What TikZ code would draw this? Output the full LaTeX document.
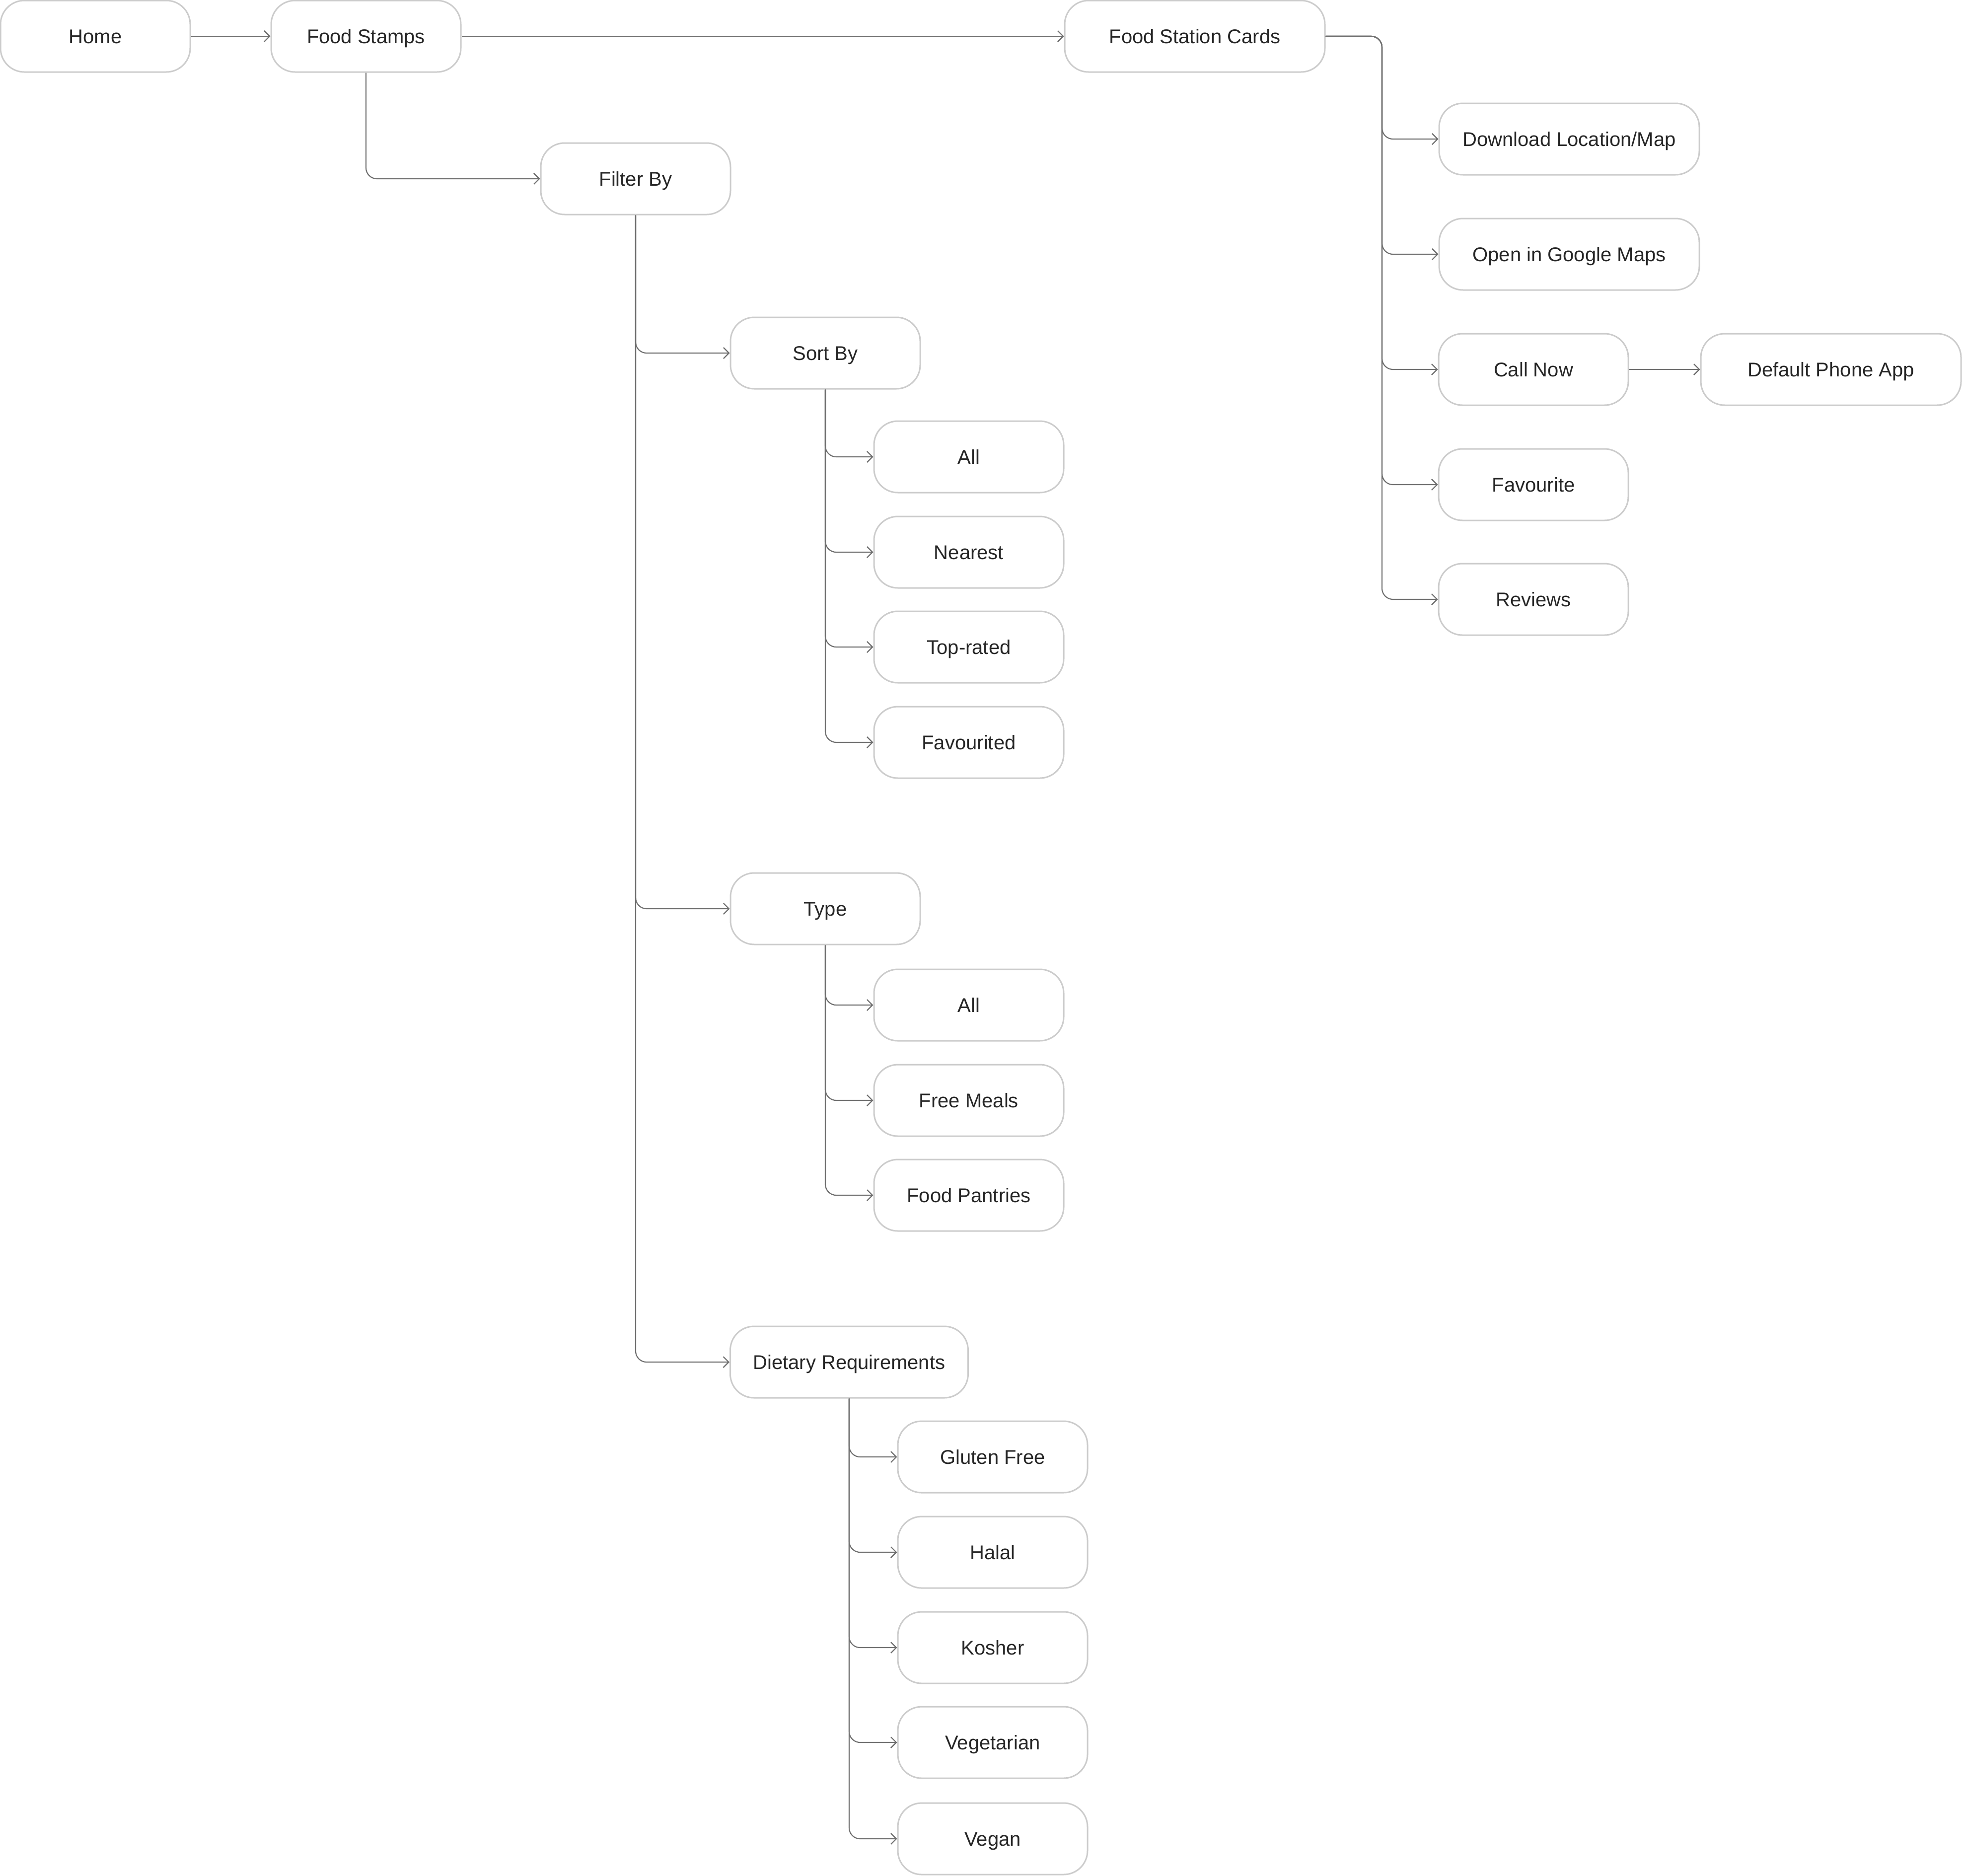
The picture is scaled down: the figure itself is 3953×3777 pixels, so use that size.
\documentclass[tikz,border=0pt]{standalone}
\usepackage{fontspec}
\setmainfont{Liberation Sans}
\usetikzlibrary{arrows.meta}
\definecolor{boxline}{HTML}{CCCCCC}
\definecolor{connline}{HTML}{707070}
\definecolor{txt}{HTML}{262626}
\begin{document}
\begin{tikzpicture}[x=1pt,y=1pt,
  box/.style={draw=boxline, line width=3pt, rounded corners=48pt, fill=white,
    minimum height=144pt, minimum width=382pt, inner sep=0pt,
    text height=28.6pt, text depth=0pt,
    text=txt, font=\fontsize{40}{48}\selectfont},
  widebox/.style={box, minimum width=524pt},
  dietbox/.style={box, minimum width=479pt},
  conn/.style={draw=connline, line width=2.2pt, rounded corners=22pt,
    -{Straight Barb[length=11pt,width=22pt,line width=2.2pt]}}
]
\useasboundingbox (0,0) rectangle (3953,-3777);
% top row
\node[box] (home) at (192,-73) {Home};
\node[box] (fs) at (737,-73) {Food Stamps};
\node[widebox] (fsc) at (2406,-73) {Food Station Cards};
% right branch
\node[widebox] (dl) at (3160,-280) {Download Location/Map};
\node[widebox] (gm) at (3160,-512) {Open in Google Maps};
\node[box] (call) at (3088,-744) {Call Now};
\node[widebox] (dpa) at (3687,-744) {Default Phone App};
\node[box] (fav) at (3088,-976) {Favourite};
\node[box] (rev) at (3088,-1207) {Reviews};
% filter branch
\node[box] (filter) at (1280,-360) {Filter By};
\node[box] (sortby) at (1662,-711) {Sort By};
\node[box] (s1) at (1951,-920) {All};
\node[box] (s2) at (1951,-1112) {Nearest};
\node[box] (s3) at (1951,-1303) {Top-rated};
\node[box] (s4) at (1951,-1495) {Favourited};
\node[box] (type) at (1662,-1830) {Type};
\node[box] (t1) at (1951,-2024) {All};
\node[box] (t2) at (1951,-2216) {Free Meals};
\node[box] (t3) at (1951,-2407) {Food Pantries};
\node[dietbox] (diet) at (1710,-2743) {Dietary Requirements};
\node[box] (d1) at (1999,-2934) {Gluten Free};
\node[box] (d2) at (1999,-3126) {Halal};
\node[box] (d3) at (1999,-3318) {Kosher};
\node[box] (d4) at (1999,-3509) {Vegetarian};
\node[box] (d5) at (1999,-3703) {Vegan};
% connectors
\draw[conn] (home.east) -- (fs.west);
\draw[conn] (fs.east) -- (fsc.west);
\draw[conn] (fs.south) |- (filter.west);
\coordinate (trunk) at (2783,-73);
\foreach \c in {dl,gm,call,fav,rev}
  \draw[conn] (fsc.east) -- (trunk) |- (\c.west);
\draw[conn] (call.east) -- (dpa.west);
\foreach \c in {sortby,type,diet}
  \draw[conn] (filter.south) |- (\c.west);
\foreach \c in {s1,s2,s3,s4}
  \draw[conn] (sortby.south) |- (\c.west);
\foreach \c in {t1,t2,t3}
  \draw[conn] (type.south) |- (\c.west);
\foreach \c in {d1,d2,d3,d4,d5}
  \draw[conn] (diet.south) |- (\c.west);
\end{tikzpicture}
\end{document}
